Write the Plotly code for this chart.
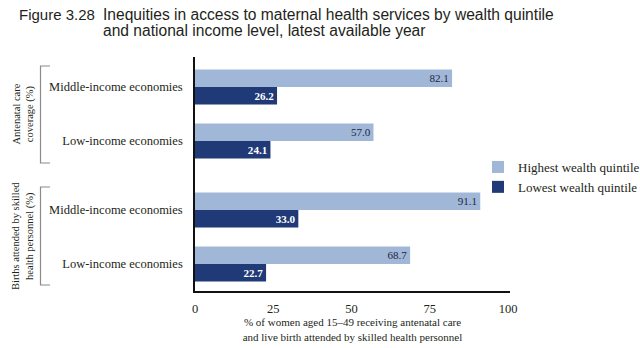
import plotly.graph_objects as go

# ---- data ----
categories = ["Middle-income economies", "Low-income economies",
              "Middle-income economies", "Low-income economies"]
highest_quintile = [82.1, 57.0, 91.1, 68.7]
lowest_quintile = [26.2, 24.1, 33.0, 22.7]
x_ticks = [0, 25, 50, 75, 100]
group_labels = ["Antenatal care<br>coverage (%)",
                "Births attended by skilled<br>health personnel (%)"]

# vertical slot of each category (a wider gap separates the two indicator groups)
positions = [0, 1, 2.278, 3.278]

# ---- layout geometry (pixels) ----
W_FIG, H_FIG = 640, 348
L, R, T, B = 195, 130, 57, 57
PW, PH = W_FIG - L - R, H_FIG - T - B
Y_RANGE = [3.778, -0.556]  # reversed so the first category is on top
X_RANGE = [0, 100.6]

LIGHT = "#a1b7d7"
DARK = "#1f3a76"
SERIF = "Liberation Serif, DejaVu Serif, serif"
TEXT = "#231f20"
BAR_W = 0.325


def px_x(px):
    return (px - L) / PW


def px_y(px):
    # pixel row -> y data value
    return Y_RANGE[1] + (px - T) / PH * (Y_RANGE[0] - Y_RANGE[1])


fig = go.Figure()
fig.add_trace(go.Bar(
    name="Highest wealth quintile", orientation="h",
    y=positions, x=highest_quintile, width=BAR_W, offset=-BAR_W,
    marker=dict(color=LIGHT, line=dict(width=0)),
    text=[f"{v:.1f}" for v in highest_quintile], textposition="inside",
    insidetextanchor="end", textangle=0,
    insidetextfont=dict(family=SERIF, size=11.5, color="#1c2540"),
    hoverinfo="skip",
))
fig.add_trace(go.Bar(
    name="Lowest wealth quintile", orientation="h",
    y=positions, x=lowest_quintile, width=BAR_W, offset=0,
    marker=dict(color=DARK, line=dict(width=0)),
    text=[f"<b>{v:.1f}</b>" for v in lowest_quintile], textposition="inside",
    insidetextanchor="end", textangle=0,
    insidetextfont=dict(family=SERIF, size=11.5, color="white"),
    hoverinfo="skip",
))

# brackets grouping the two indicators
bracket_spans = [(66, 163), (187, 285)]
shapes = []
for top, bot in bracket_spans:
    shapes.append(dict(
        type="path", xref="paper", yref="y",
        path=(f"M {px_x(50)},{px_y(top)} L {px_x(40.5)},{px_y(top)} "
              f"L {px_x(40.5)},{px_y(bot)} L {px_x(50)},{px_y(bot)}"),
        line=dict(color="#8a8a8a", width=1.2),
    ))

annotations = []
for (top, bot), label in zip(bracket_spans, group_labels):
    annotations.append(dict(
        text=label, xref="paper", yref="y", x=px_x(23), y=px_y((top + bot) / 2),
        showarrow=False, textangle=-90, xanchor="center", yanchor="middle",
        font=dict(family=SERIF, size=10.5, color=TEXT),
    ))

TITLE_FAMILY = "Liberation Sans Narrow, Arial Narrow, Liberation Sans, sans-serif"
TITLE_FONT = dict(family=TITLE_FAMILY, size=15.6, color=TEXT)
annotations += [
    dict(text="Figure 3.28", xref="paper", yref="paper", x=px_x(17), y=1 + (T - 14) / PH,
         xanchor="left", yanchor="middle", showarrow=False,
         font=dict(family=TITLE_FAMILY, size=15, color=TEXT)),
    dict(text="Inequities in access to maternal health services by wealth quintile",
         xref="paper", yref="paper", x=px_x(101), y=1 + (T - 14) / PH,
         xanchor="left", yanchor="middle", showarrow=False, font=TITLE_FONT),
    dict(text="and national income level, latest available year",
         xref="paper", yref="paper", x=px_x(101), y=1 + (T - 31) / PH,
         xanchor="left", yanchor="middle", showarrow=False, font=TITLE_FONT),
]

fig.update_layout(
    width=W_FIG, height=H_FIG,
    margin=dict(l=L, r=R, t=T, b=B, pad=0, autoexpand=False),
    paper_bgcolor="white", plot_bgcolor="white",
    barmode="overlay",
    showlegend=True,
    legend=dict(
        xref="container", yref="container", x=478 / W_FIG, y=1 - 152 / H_FIG,
        xanchor="left", yanchor="top", traceorder="normal",
        font=dict(family=SERIF, size=13, color=TEXT),
        bgcolor="rgba(0,0,0,0)", itemwidth=30, tracegroupgap=0,
    ),
    xaxis=dict(
        range=X_RANGE, tickvals=x_ticks, ticktext=[str(t) for t in x_ticks],
        showgrid=False, zeroline=False, showline=True, linecolor="#111", linewidth=1.5,
        ticks="", ticklabelstandoff=5, automargin=False,
        tickfont=dict(family=SERIF, size=12.5, color=TEXT),
        title=dict(
            text="% of women aged 15\u201349 receiving antenatal care<br>"
                 "and live birth attended by skilled health personnel",
            font=dict(family=SERIF, size=11, color=TEXT), standoff=4,
        ),
    ),
    yaxis=dict(
        range=Y_RANGE, tickvals=positions, ticktext=categories,
        showgrid=False, zeroline=False, showline=True, linecolor="#111", linewidth=1.5,
        ticks="", ticklabelstandoff=8, automargin=False,
        tickfont=dict(family=SERIF, size=12.5, color=TEXT),
    ),
    shapes=shapes,
    annotations=annotations,
)

fig.write_html("out.html")
